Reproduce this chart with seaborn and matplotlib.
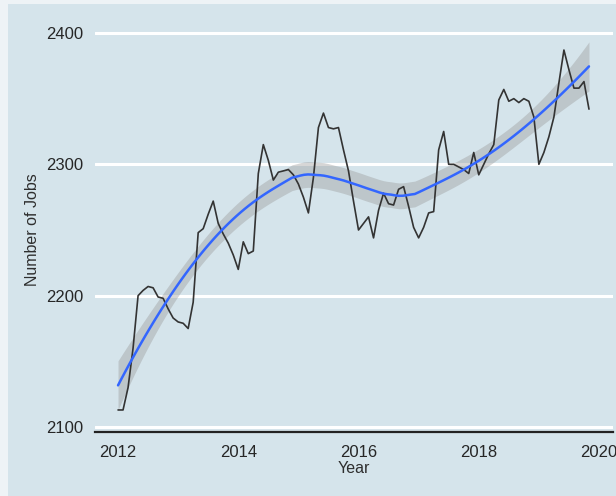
import numpy as np
import pandas as pd
import matplotlib
matplotlib.use("Agg")
import matplotlib.pyplot as plt
import seaborn as sns
from matplotlib.patches import Rectangle

# ---- data (monthly, Jan 2012 .. Nov 2019) ----
jobs = [2113, 2113, 2130, 2160, 2200, 2204, 2207, 2206, 2199, 2198, 2190, 2183,
        2180, 2179, 2175, 2195, 2248, 2251, 2262, 2272, 2255, 2247, 2240, 2231,
        2220, 2241, 2232, 2234, 2293, 2315, 2303, 2288, 2294, 2295, 2296, 2292,
        2285, 2275, 2263, 2290, 2328, 2339, 2328, 2327, 2328, 2311, 2295, 2272,
        2250, 2255, 2260, 2244, 2265, 2278, 2270, 2269, 2281, 2283, 2268, 2252,
        2244, 2252, 2263, 2264, 2311, 2325, 2300, 2300, 2298, 2296, 2293, 2309,
        2292, 2300, 2308, 2315, 2349, 2357, 2348, 2350, 2347, 2350, 2348, 2336,
        2300, 2309, 2321, 2336, 2362, 2387, 2372, 2358, 2358, 2363, 2342]
start_year = 2012
year = start_year + np.arange(len(jobs)) / 12.0
x_ticks = [2012, 2014, 2016, 2018, 2020]
y_ticks = [2100, 2200, 2300, 2400]

df = pd.DataFrame({"Year": year, "Jobs": jobs})

# ---- loess smoother (local quadratic, span 0.75) with confidence band ----
def loess_rows(x, x0s, span=0.75):
    n = len(x)
    q = int(np.floor(n * span))
    rows = []
    for x0 in x0s:
        d = np.abs(x - x0)
        h = np.sort(d)[q - 1]
        w = np.clip(1 - (d / h) ** 3, 0, None) ** 3
        X = np.column_stack([np.ones(n), x - x0, (x - x0) ** 2])
        A = X.T @ (w[:, None] * X)
        l = np.linalg.solve(A, X.T * w)[0]
        rows.append(l)
    return np.array(rows)

xv = df["Year"].to_numpy()
yv = df["Jobs"].to_numpy(dtype=float)
Lfit = loess_rows(xv, xv)
resid = yv - Lfit @ yv
I = np.eye(len(xv))
M = (I - Lfit).T @ (I - Lfit)
d1 = np.trace(M)
sigma = np.sqrt(np.sum(resid ** 2) / d1)
xs = np.linspace(xv.min(), xv.max(), 120)
Ls = loess_rows(xv, xs)
fit = Ls @ yv
se = sigma * np.sqrt(np.sum(Ls ** 2, axis=1))
tq = 1.99
smooth = pd.DataFrame({"Year": xs, "fit": fit})

# ---- style ----
bg = "#d5e4eb"
sns.set_theme(style="white")
plt.rcParams["font.family"] = ["Liberation Sans", "DejaVu Sans"]

fig = plt.figure(figsize=(6.16, 4.96), dpi=100)
fig.patch.set_facecolor("#eef3f6")
fig.patches.append(Rectangle((8 / 616, 0), 1, 1 - 4 / 496, transform=fig.transFigure,
                             facecolor=bg, edgecolor="none", zorder=-10))
ax = fig.add_axes([95 / 616, 1 - 432.3 / 496, (613 - 95) / 616, (432.3 - 27.7) / 496])
ax.set_facecolor(bg)

for yt in y_ticks:
    ax.axhline(yt, color="white", lw=2.2, zorder=0)

ax.fill_between(xs, fit - tq * se, fit + tq * se, color="#999999", alpha=0.4,
                lw=0, zorder=2)
sns.lineplot(data=df, x="Year", y="Jobs", ax=ax, color="#333333", lw=1.2, zorder=3)
sns.lineplot(data=smooth, x="Year", y="fit", ax=ax, color="#3366FF", lw=1.8, zorder=4)

ax.set_xlim(2011.617, 2020.233)
ax.set_ylim(2096, 2404)
ax.set_xticks(x_ticks)
ax.set_yticks(y_ticks)
ax.set_xticklabels([str(t) for t in x_ticks])
ax.set_yticklabels([str(t) for t in y_ticks])

for s in ["top", "right", "left"]:
    ax.spines[s].set_visible(False)
ax.spines["bottom"].set_color("#222222")
ax.spines["bottom"].set_linewidth(1.6)
ax.spines["bottom"].set_zorder(5)

ax.tick_params(axis="x", direction="in", length=6, width=1.2, color="#222222",
               pad=9, labelsize=12, labelcolor="#262626")
ax.tick_params(axis="y", length=0, pad=8.5, labelsize=12, labelcolor="#262626")

ax.set_xlabel("Year", fontsize=11.5, color="#2e2e2e", labelpad=1)
ax.set_ylabel("Number of Jobs", fontsize=11.5, color="#2e2e2e", labelpad=4)

fig.savefig("out.png", dpi=100, facecolor=fig.get_facecolor())
